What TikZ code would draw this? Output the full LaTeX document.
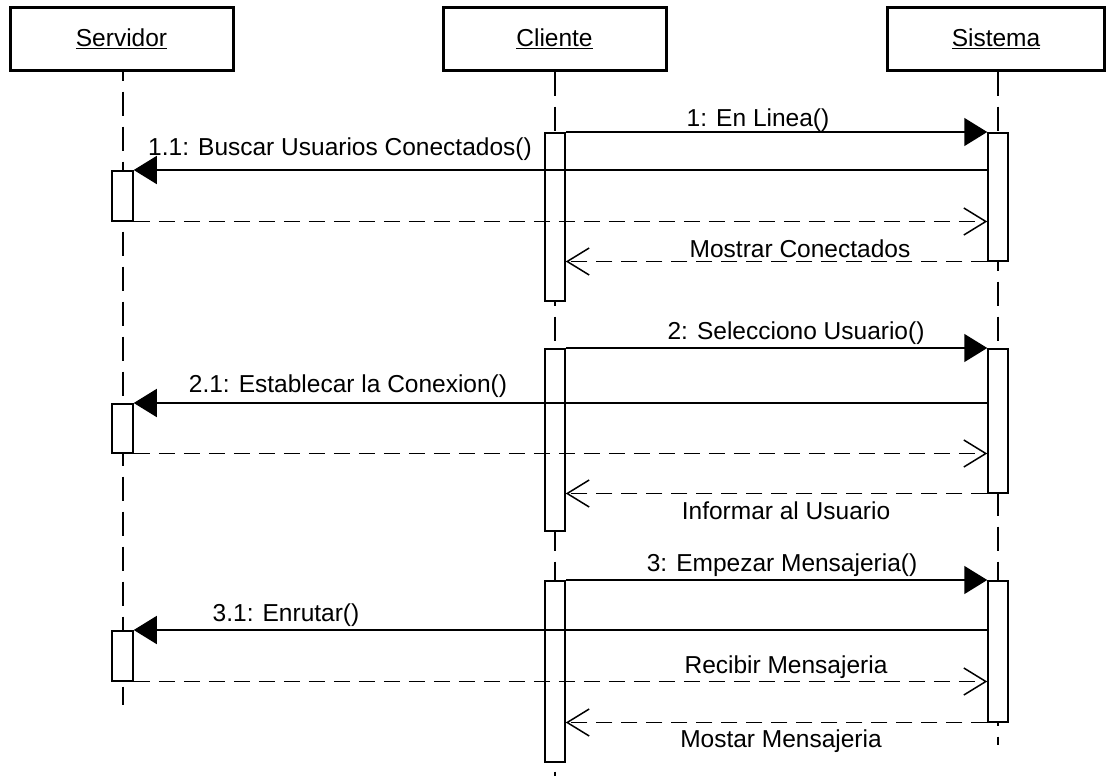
\documentclass[tikz,border=0pt]{standalone}
\usepackage{fontspec}
\setmainfont{Liberation Sans}
\usetikzlibrary{arrows.meta}
\begin{document}
\begin{tikzpicture}[x=1pt,y=-1pt,
  head/.style={draw, line width=3pt, minimum height=62pt, inner sep=0pt, font=\fontsize{24.5}{28}\selectfont},
  act/.style={draw, fill=white, line width=1.5pt, minimum width=20pt, inner sep=0pt, anchor=north},
  life/.style={line width=1.5pt, dash pattern=on 24pt off 11pt},
  call/.style={line width=1.5pt, -{Triangle[length=23pt,width=28pt]}},
  ret/.style={line width=1.5pt, dash pattern=on 16pt off 9pt, -{Straight Barb[length=22pt,width=27pt,line width=1.5pt]}},
  lbl/.style={font=\fontsize{24.5}{28}\selectfont, inner sep=0pt, anchor=base}
]
\useasboundingbox (0,0) rectangle (1107,776);
% heads
\node[head, minimum width=223pt] (srv) at (121.5,39) {\underline{Servidor}};
\node[head, minimum width=223pt] (cli) at (554.5,39) {\underline{Cliente}};
\node[head, minimum width=217pt] (sis) at (996,39) {\underline{Sistema}};
% lifeline ends
\coordinate (srvEnd) at (123,705);
\coordinate (cliEnd) at (555,776);
\coordinate (sisEnd) at (998,745);
\draw[life, dash phase=15pt] (srvEnd |- srv.south) -- (srvEnd);
\draw[life] (cliEnd |- cli.south) -- (cliEnd);
\draw[life] (sisEnd |- sis.south) -- (sisEnd);
% activations
\node[act, minimum height=168pt] (cliA1) at (555,132) {};
\node[act, minimum height=128pt] (sisA1) at (998,132) {};
\node[act, minimum height=50pt, minimum width=21pt] (srvA1) at (122.5,170) {};
\node[act, minimum height=182pt] (cliA2) at (555,348) {};
\node[act, minimum height=144pt] (sisA2) at (998,348) {};
\node[act, minimum height=49pt, minimum width=21pt] (srvA2) at (122.5,403) {};
\node[act, minimum height=181pt] (cliA3) at (555,580) {};
\node[act, minimum height=141pt] (sisA3) at (998,580) {};
\node[act, minimum height=50pt, minimum width=21pt] (srvA3) at (122.5,630) {};
% messages 1
\draw[call] (cliA1.north east) -- (sisA1.north west);
\draw[call] (sisA1.west |- srvA1.north) -- (srvA1.north east);
\draw[ret] (srvA1.south east) -- (sisA1.west |- srvA1.south);
\draw[ret] (sisA1.south west) -- (cliA1.east |- sisA1.south);
% messages 2
\draw[call] (cliA2.north east) -- (sisA2.north west);
\draw[call] (sisA2.west |- srvA2.north) -- (srvA2.north east);
\draw[ret] (srvA2.south east) -- (sisA2.west |- srvA2.south);
\draw[ret] (sisA2.south west) -- (cliA2.east |- sisA2.south);
% messages 3
\draw[call] (cliA3.north east) -- (sisA3.north west);
\draw[call] (sisA3.west |- srvA3.north) -- (srvA3.north east);
\draw[ret] (srvA3.south east) -- (sisA3.west |- srvA3.south);
\draw[ret] (sisA3.south west) -- (cliA3.east |- sisA3.south);
% labels
\node[lbl] (l1) at (758,126) {1: En Linea()};
\node[lbl] (l11) at (340,155) {1.1: Buscar Usuarios Conectados()};
\node[lbl] (lr1) at (800,257) {Mostrar Conectados};
\node[lbl] (l2) at (796,339) {2: Selecciono Usuario()};
\node[lbl] (l21) at (348,392) {2.1: Establecar la Conexion()};
\node[lbl] (lr2) at (786,519) {Informar al Usuario};
\node[lbl] (l3) at (782,571) {3: Empezar Mensajeria()};
\node[lbl] (l31) at (286,621) {3.1: Enrutar()};
\node[lbl] (lr3a) at (786,673) {Recibir Mensajeria};
\node[lbl] (lr3b) at (781,747) {Mostar Mensajeria};
\end{tikzpicture}
\end{document}
